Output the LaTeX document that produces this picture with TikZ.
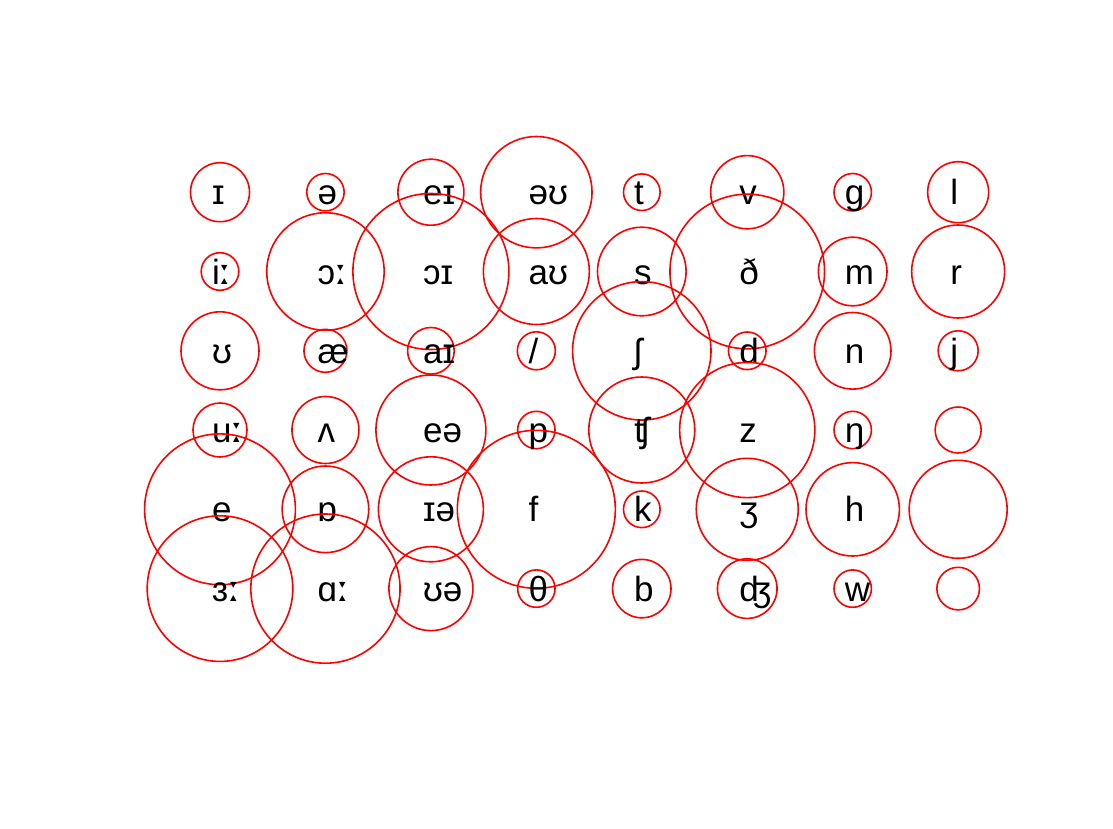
\documentclass[tikz,border=0pt]{standalone}
\usepackage{fontspec}
\setmainfont{Liberation Sans}
\newfontfamily\djv{DejaVu Sans}
\newcommand\lng{{\djv\fontsize{37}{40}\selectfont ː}}
\tikzset{
  ring/.style={draw=red, circle, line width=1.6pt, inner sep=0pt},
  lab/.style={anchor=base west, inner sep=0pt, font=\fontsize{35}{40}\selectfont, text=black}
}
\newcommand\ipacell[5]{%
  \node[ring, minimum size=#4*2pt] (#1) at (#2,#3) {};
  \node[lab] (t#1) at ([shift={(-8,12.5)}]#1.center) {#5};
}
\begin{document}
\begin{tikzpicture}[x=1pt,y=-1pt]
\useasboundingbox[fill=white] (0,0) rectangle (1113,829);
% row 1
\ipacell{a1}{220}{192.2}{29.5}{ɪ}
\ipacell{a2}{325.45}{192.2}{18.7}{ə}
\ipacell{a3}{430.9}{192.2}{33}{eɪ}
\ipacell{a4}{536.35}{192.2}{55.7}{əʊ}
\ipacell{a5}{641.8}{192.2}{18.3}{t}
\ipacell{a6}{747.25}{192.2}{36.6}{v}
\ipacell{a7}{852.7}{192.2}{18.7}{g}
\ipacell{a8}{958.15}{192.2}{30.5}{l}
% row 2
\ipacell{b1}{220}{271.5}{18.8}{i\lng}
\ipacell{b2}{325.45}{271.5}{58.7}{ɔ\lng}
\ipacell{b3}{430.9}{271.5}{78}{ɔɪ}
\ipacell{b4}{536.35}{271.5}{53}{aʊ}
\ipacell{b5}{641.8}{271.5}{44.3}{s}
\ipacell{b6}{747.25}{271.5}{77.3}{ð}
\ipacell{b7}{852.7}{271.5}{34.3}{m}
\ipacell{b8}{958.15}{271.5}{46.5}{r}
% row 3
\ipacell{c1}{220}{350.8}{39}{ʊ}
\ipacell{c2}{325.45}{350.8}{21.5}{æ}
\ipacell{c3}{430.9}{350.8}{23.3}{aɪ}
\ipacell{c4}{536.35}{350.8}{19}{/}
\ipacell{c5}{641.8}{350.8}{69.2}{ʃ}
\ipacell{c6}{747.25}{350.8}{18.8}{d}
\ipacell{c7}{852.7}{350.8}{38.3}{n}
\ipacell{c8}{958.15}{350.8}{20}{j}
% row 4
\ipacell{d1}{220}{430}{27}{u\lng}
\ipacell{d2}{325.45}{430}{33.5}{ʌ}
\ipacell{d3}{430.9}{430}{55}{eə}
\ipacell{d4}{536.35}{430}{18.7}{p}
\ipacell{d5}{641.8}{430}{53}{ʧ}
\ipacell{d6}{747.25}{430}{67.6}{z}
\ipacell{d7}{852.7}{430}{18.7}{ŋ}
\ipacell{d8}{958.15}{430}{23}{}
% row 5
\ipacell{e1}{220}{509.3}{75.4}{e}
\ipacell{e2}{325.45}{509.3}{43.3}{ɒ}
\ipacell{e3}{430.9}{509.3}{52.5}{ɪə}
\ipacell{e4}{536.35}{509.3}{79}{f}
\ipacell{e5}{641.8}{509.3}{18.3}{k}
\ipacell{e6}{747.25}{509.3}{51}{ʒ}
\ipacell{e7}{852.7}{509.3}{46.7}{h}
\ipacell{e8}{958.15}{509.3}{49}{}
% row 6
\ipacell{f1}{220}{588.6}{72.8}{ɜ\lng}
\ipacell{f2}{325.45}{588.6}{74.6}{ɑ\lng}
\ipacell{f3}{430.9}{588.6}{42}{ʊə}
\ipacell{f4}{536.35}{588.6}{18.7}{θ}
\ipacell{f5}{641.8}{588.6}{29.2}{b}
\ipacell{f6}{747.25}{588.6}{29.8}{ʤ}
\ipacell{f7}{852.7}{588.6}{18.7}{w}
\ipacell{f8}{958.15}{588.6}{21.3}{}
\end{tikzpicture}
\end{document}
